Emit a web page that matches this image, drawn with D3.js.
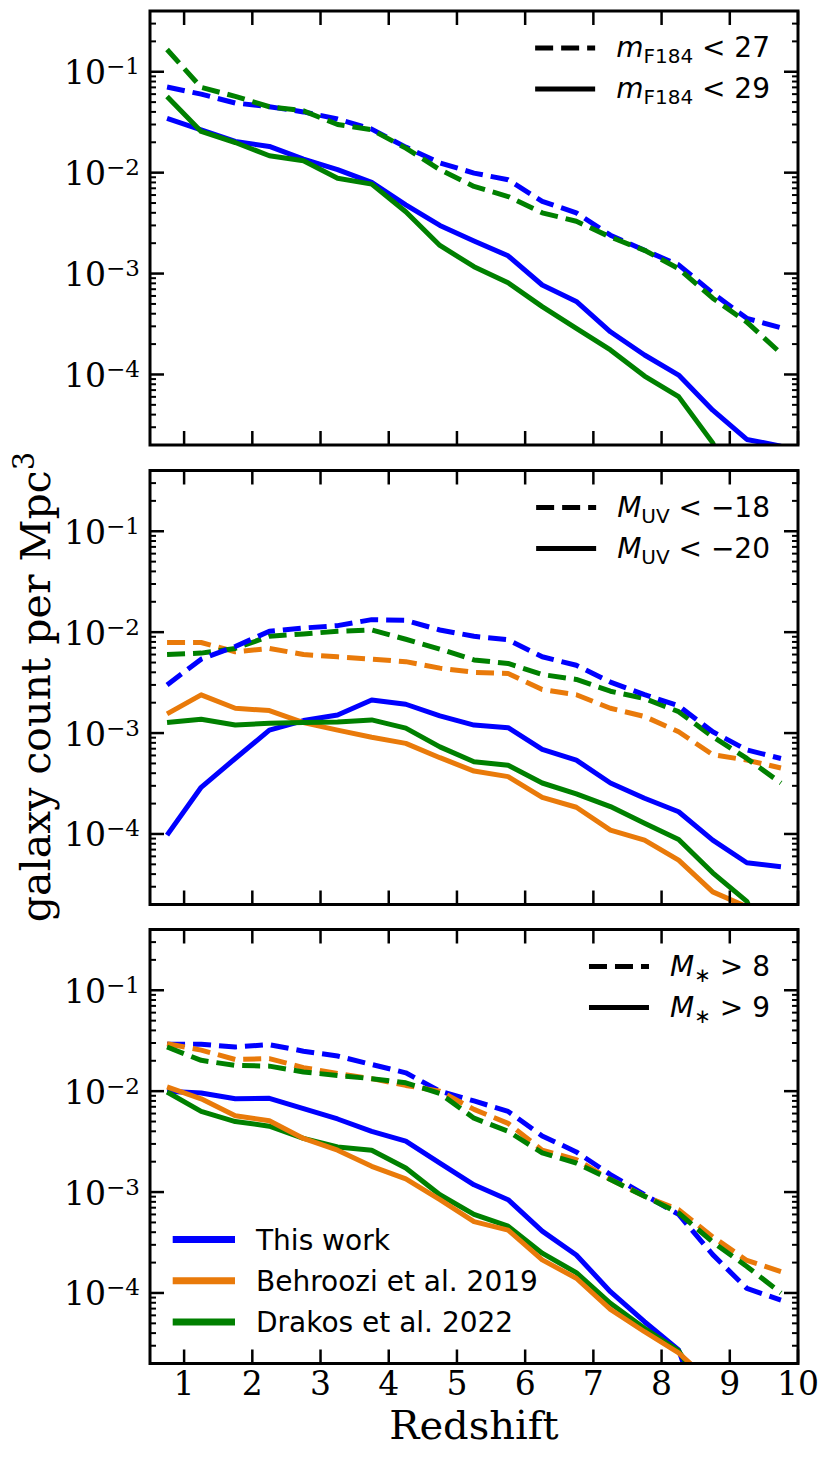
<!DOCTYPE html>
<html><head><meta charset="utf-8">
<script src="https://cdn.jsdelivr.net/npm/d3@7"></script>
<style>body{margin:0;background:#fff}</style>
</head><body><svg id="c" width="831" height="1460"></svg>
<script>
// ---------------- DATA ----------------
const redshift = [0.75,1.25,1.75,2.25,2.75,3.25,3.75,4.25,4.75,5.25,5.75,6.25,6.75,7.25,7.75,8.25,8.75,9.25,9.75];
const xTicks = [1,2,3,4,5,6,7,8,9,10];
const yTicks = [1e-1,1e-2,1e-3,1e-4];
const yTickExponents = ["\u22121","\u22122","\u22123","\u22124"];

// Panel 1: apparent magnitude cuts
const magThisWork27 = [0.0705,0.060,0.049,0.045,0.040,0.034,0.027,0.0179,0.0125,0.0099,0.0085,0.0052,0.0040,0.0024,0.0017,0.00122,0.00064,0.00036,0.00029];
const magDrakos27   = [0.166,0.070,0.057,0.045,0.041,0.030,0.0266,0.0175,0.0107,0.0073,0.0058,0.0040,0.0033,0.0023,0.0017,0.00112,0.00057,0.00033,0.000162];
const magThisWork29 = [0.0346,0.0266,0.0204,0.0182,0.0136,0.0107,0.0080,0.0048,0.0030,0.0021,0.0015,0.00077,0.00053,0.000265,0.000156,0.0000987,0.0000443,0.0000227,0.0000195];
const magDrakos29   = [0.0569,0.0256,0.0199,0.0147,0.0131,0.0088,0.0077,0.0041,0.0019,0.00117,0.00081,0.00047,0.000286,0.000175,0.0000964,0.0000603,0.000021,0.000003,0.000001];

// Panel 2: UV magnitude cuts
const uvThisWork18 = [0.0030,0.0054,0.0072,0.0102,0.0110,0.0116,0.0133,0.0131,0.0105,0.0091,0.0084,0.0057,0.0047,0.0032,0.0024,0.00186,0.00103,0.00068,0.00056];
const uvBehroozi18 = [0.0079,0.0079,0.0064,0.0069,0.0060,0.0057,0.0054,0.0051,0.0044,0.0040,0.0039,0.0027,0.0024,0.00176,0.00146,0.00103,0.00061,0.00054,0.00045];
const uvDrakos18   = [0.0060,0.0062,0.0069,0.0091,0.0096,0.0102,0.0105,0.0085,0.0068,0.0053,0.0049,0.0038,0.0034,0.0026,0.0022,0.00163,0.00092,0.00056,0.00032];
const uvThisWork20 = [0.0000975,0.00029,0.00056,0.00107,0.00133,0.00151,0.00213,0.00193,0.00148,0.00120,0.00113,0.00069,0.00054,0.00032,0.000226,0.000166,0.000087,0.0000519,0.0000473];
const uvBehroozi20 = [0.00155,0.00239,0.00176,0.00167,0.00127,0.00107,0.00091,0.00079,0.00057,0.00042,0.00037,0.00023,0.000184,0.000109,0.000087,0.000055,0.0000267,0.0000190,0.000004];
const uvDrakos20   = [0.00127,0.00137,0.00120,0.00125,0.00127,0.00129,0.00135,0.00112,0.00073,0.00052,0.00048,0.00032,0.00025,0.000187,0.000128,0.0000883,0.0000412,0.0000215,0.000004];

// Panel 3: stellar mass cuts
const massThisWork8 = [0.0291,0.0291,0.0274,0.0289,0.0249,0.0223,0.0184,0.0152,0.0100,0.0080,0.0063,0.0036,0.0025,0.00149,0.00094,0.00060,0.00024,0.000111,0.000085];
const massBehroozi8 = [0.0295,0.0255,0.0206,0.0210,0.0171,0.0150,0.0133,0.0114,0.0100,0.0066,0.0048,0.0026,0.0021,0.00133,0.00091,0.00067,0.00036,0.00021,0.000163];
const massDrakos8   = [0.0274,0.0202,0.0180,0.0177,0.0155,0.0143,0.0133,0.0121,0.0095,0.0054,0.0040,0.00244,0.00194,0.00133,0.00091,0.00062,0.00032,0.000183,0.000100];
const massThisWork9 = [0.0100,0.0096,0.0084,0.0085,0.0067,0.0053,0.0040,0.0032,0.00194,0.00118,0.00084,0.00041,0.000238,0.000103,0.0000519,0.0000272,0.000003,0.000001,0.000001];
const massBehroozi9 = [0.0110,0.0084,0.0057,0.0051,0.0034,0.0026,0.0018,0.00135,0.00084,0.00051,0.00042,0.000213,0.000140,0.0000689,0.0000413,0.0000255,0.0000125,0.000001,0.000001];
const massDrakos9   = [0.0098,0.0063,0.0050,0.0045,0.0034,0.0028,0.0026,0.00173,0.00094,0.00060,0.00046,0.000248,0.000159,0.0000789,0.0000446,0.0000267,0.000008,0.000001,0.000001];

const sourceNames = ["This work","Behroozi et al. 2019","Drakos et al. 2022"];

// ---------------- LAYOUT ----------------
const W=831,H=1460;
const left=150,right=798,panelH=434;
const tops=[11,470.5,929.5];
const colors={thisWork:'#0000ff',behroozi:'#e97a0a',drakos:'#008000'};
const serif='"DejaVu Serif", serif';
const sans='"DejaVu Sans", sans-serif';

const svg=d3.select('#c');
svg.append('rect').attr('width',W).attr('height',H).attr('fill','#fff');

const x=d3.scaleLinear().domain([0.5,10]).range([left,right]);

const panels=[
  {lines:[
    {v:magThisWork27,c:'thisWork',dash:true},{v:magDrakos27,c:'drakos',dash:true},
    {v:magThisWork29,c:'thisWork',dash:false},{v:magDrakos29,c:'drakos',dash:false}],
   legend:[
    {dash:true,parts:[{t:'m',it:true},{t:'F184',sub:true},{t:' < 27'}]},
    {dash:false,parts:[{t:'m',it:true},{t:'F184',sub:true},{t:' < 29'}]}]},
  {lines:[
    {v:uvBehroozi18,c:'behroozi',dash:true},{v:uvDrakos18,c:'drakos',dash:true},{v:uvThisWork18,c:'thisWork',dash:true},
    {v:uvThisWork20,c:'thisWork',dash:false},{v:uvBehroozi20,c:'behroozi',dash:false},{v:uvDrakos20,c:'drakos',dash:false}],
   legend:[
    {dash:true,parts:[{t:'M',it:true},{t:'UV',sub:true},{t:' < \u221218'}]},
    {dash:false,parts:[{t:'M',it:true},{t:'UV',sub:true},{t:' < \u221220'}]}]},
  {lines:[
    {v:massThisWork8,c:'thisWork',dash:true},{v:massBehroozi8,c:'behroozi',dash:true},{v:massDrakos8,c:'drakos',dash:true},
    {v:massThisWork9,c:'thisWork',dash:false},{v:massDrakos9,c:'drakos',dash:false},{v:massBehroozi9,c:'behroozi',dash:false}],
   legend:[
    {dash:true,parts:[{t:'M',it:true},{t:'\u2217',sub:true},{t:' > 8'}]},
    {dash:false,parts:[{t:'M',it:true},{t:'\u2217',sub:true},{t:' > 9'}]}]}
];

panels.forEach((p,pi)=>{
  const top=tops[pi], bottom=top+panelH;
  const y=d3.scaleLog().domain([2e-5,0.4]).range([bottom,top]);
  const g=svg.append('g');
  const cid='clip'+pi;
  svg.append('clipPath').attr('id',cid).append('rect')
    .attr('x',left).attr('y',top).attr('width',right-left).attr('height',panelH);
  const lg=g.append('g').attr('clip-path',`url(#${cid})`);
  const line=d3.line().x((d,i)=>x(redshift[i])).y(d=>y(d));
  p.lines.forEach(L=>{
    lg.append('path').datum(L.v).attr('d',line)
      .attr('fill','none').attr('stroke',colors[L.c]).attr('stroke-width',5)
      .attr('stroke-linejoin','round')
      .attr('stroke-dasharray',L.dash?'18,8':null);
  });
  // y ticks major + minor, both sides
  const majors=[], minors=[];
  for(let k=-5;k<=0;k++){
    for(let m=1;m<=9;m++){
      const v=m*Math.pow(10,k);
      if(v<2e-5-1e-12||v>0.4+1e-12) continue;
      (m===1?majors:minors).push(v);
    }
  }
  const tg=g.append('g').attr('stroke','#000');
  majors.forEach(v=>{
    const yy=y(v);
    tg.append('line').attr('x1',left).attr('x2',left+14).attr('y1',yy).attr('y2',yy).attr('stroke-width',2.5);
    tg.append('line').attr('x1',right-14).attr('x2',right).attr('y1',yy).attr('y2',yy).attr('stroke-width',2.5);
  });
  minors.forEach(v=>{
    const yy=y(v);
    tg.append('line').attr('x1',left).attr('x2',left+6).attr('y1',yy).attr('y2',yy).attr('stroke-width',2);
    tg.append('line').attr('x1',right-6).attr('x2',right).attr('y1',yy).attr('y2',yy).attr('stroke-width',2);
  });
  xTicks.forEach(t=>{
    const xx=x(t);
    tg.append('line').attr('x1',xx).attr('x2',xx).attr('y1',bottom).attr('y2',bottom-14).attr('stroke-width',2.5);
    tg.append('line').attr('x1',xx).attr('x2',xx).attr('y1',top).attr('y2',top+14).attr('stroke-width',2.5);
  });
  // y tick labels
  yTicks.forEach((v,i)=>{
    const t=g.append('text').attr('x',140).attr('y',y(v)+12.5)
      .attr('text-anchor','end').attr('font-family',serif).attr('font-size',33).attr('fill','#000');
    t.append('tspan').text('10');
    t.append('tspan').attr('font-size',23).attr('dy',-10).text(yTickExponents[i]);
  });
  // frame
  g.append('rect').attr('x',left).attr('y',top).attr('width',right-left).attr('height',panelH)
    .attr('fill','none').attr('stroke','#000').attr('stroke-width',3);
  // style legend (upper right)
  p.legend.forEach((L,li)=>{
    const rowY=top+37+li*41;
    const t=g.append('text').attr('x',0).attr('y',rowY+9)
      .attr('font-family',sans).attr('font-size',28).attr('fill','#000')
      .style('white-space','pre');
    L.parts.forEach(part=>{
      const ts=t.append('tspan').text(part.t);
      if(part.it) ts.attr('font-style','italic');
      if(part.sub){ ts.attr('font-size',20).attr('dy',6); }
    });
    const tsp=t.selectAll('tspan').nodes();
    for(let k=1;k<tsp.length;k++){
      if(L.parts[k-1].sub && !L.parts[k].sub) d3.select(tsp[k]).attr('dy',-6);
    }
    const len=t.node().getComputedTextLength();
    const tx=770-len;
    t.attr('x',tx);
    g.append('line').attr('x1',tx-81).attr('x2',tx-21).attr('y1',rowY).attr('y2',rowY)
      .attr('stroke','#000').attr('stroke-width',5)
      .attr('stroke-dasharray',L.dash?'18,8':null);
  });
  if(pi===2){
    xTicks.forEach(tk=>{
      g.append('text').attr('x',x(tk)).attr('y',1395).attr('text-anchor','middle')
        .attr('font-family',serif).attr('font-size',33).attr('fill','#000').text(tk);
    });
    const keys=['thisWork','behroozi','drakos'];
    keys.forEach((k,i)=>{
      const rowY=bottom-124+i*41.2;
      g.append('line').attr('x1',172.7).attr('x2',235).attr('y1',rowY).attr('y2',rowY)
        .attr('stroke',colors[k]).attr('stroke-width',7);
      g.append('text').attr('x',256).attr('y',rowY+10).attr('font-family',sans)
        .attr('font-size',28).attr('fill','#000').text(sourceNames[i]);
    });
  }
});

// axis labels
svg.append('text').attr('x',474).attr('y',1439).attr('text-anchor','middle')
  .attr('font-family',serif).attr('font-size',40).attr('fill','#000').text('Redshift');
const yl=svg.append('text').attr('transform','translate(50,687) rotate(-90)')
  .attr('text-anchor','middle').attr('font-family',serif).attr('font-size',41).attr('fill','#000');
yl.append('tspan').text('galaxy count per Mpc');
yl.append('tspan').attr('font-size',29).attr('dy',-16).text('3');
</script>
</body></html>
